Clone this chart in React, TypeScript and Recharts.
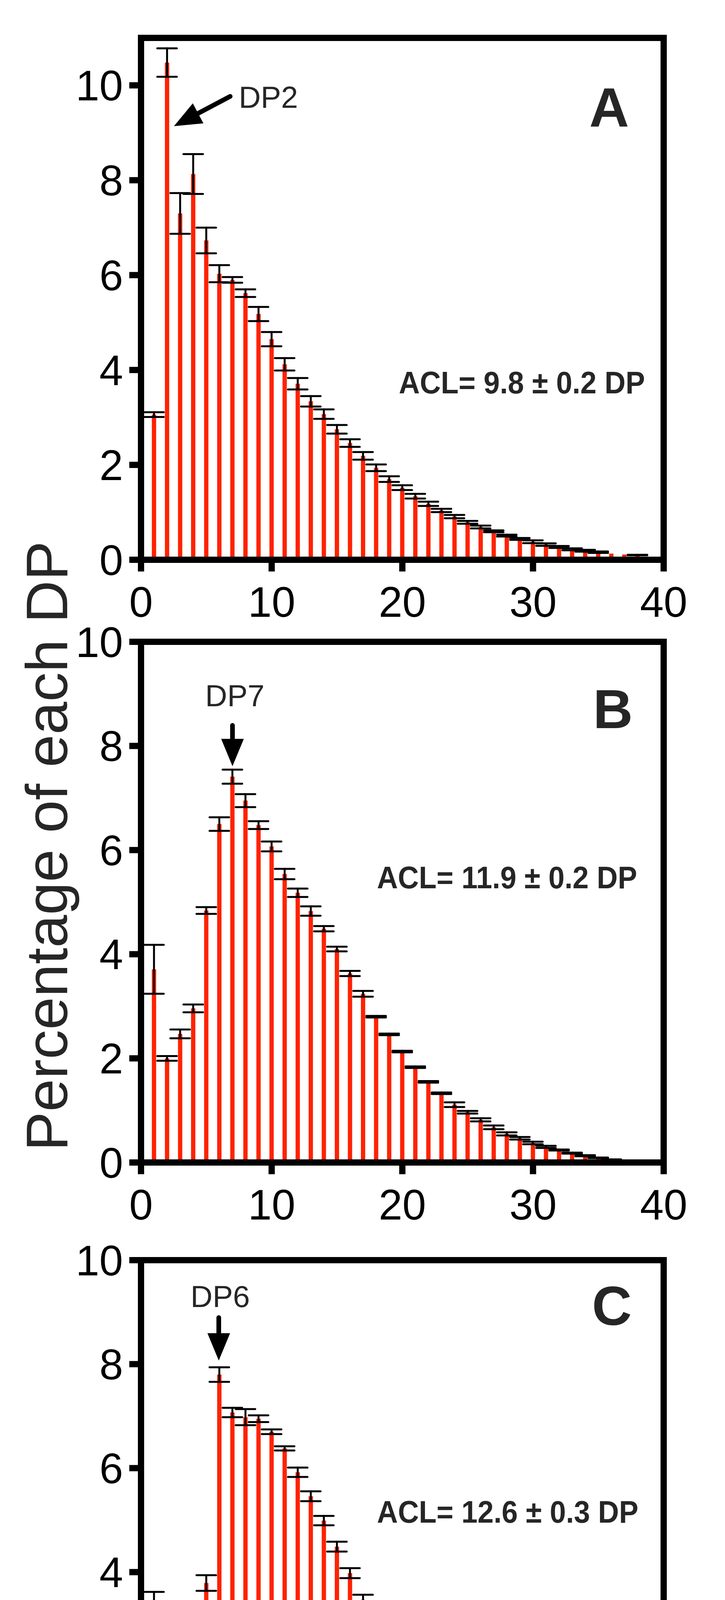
import React from 'react';
import { BarChart, Bar, XAxis, YAxis, ErrorBar, ReferenceLine, ReferenceDot } from 'recharts';

// Percentage of each DP, mean and error
const dpA = Array.from({ length: 39 }, (_, i) => i + 1);
const meanA = [3.06, 10.48, 7.3, 8.13, 6.73, 6.03, 5.9, 5.62, 5.18, 4.65, 4.12, 3.71, 3.34, 3.07, 2.75, 2.46, 2.19, 1.94, 1.7, 1.52, 1.34, 1.18, 1.04, 0.91, 0.79, 0.69, 0.6, 0.51, 0.44, 0.38, 0.32, 0.27, 0.22, 0.19, 0.16, 0.13, 0.11, 0.1, 0.06];
const semA = [0.05, 0.3, 0.43, 0.42, 0.27, 0.18, 0.06, 0.08, 0.15, 0.15, 0.13, 0.12, 0.11, 0.1, 0.09, 0.08, 0.08, 0.07, 0.06, 0.05, 0.05, 0.045, 0.035, 0.035, 0.03, 0.03, 0.02, 0.02, 0.02, 0.03, 0.025, 0.02, 0.02, 0.02, 0.015, 0, 0, 0.005, 0];

const dpB = Array.from({ length: 38 }, (_, i) => i + 1);
const meanB = [3.71, 2.0, 2.47, 2.96, 4.84, 6.5, 7.41, 6.95, 6.48, 6.07, 5.54, 5.18, 4.83, 4.49, 4.1, 3.63, 3.24, 2.8, 2.46, 2.13, 1.83, 1.55, 1.33, 1.11, 0.965, 0.82, 0.675, 0.55, 0.465, 0.375, 0.3, 0.24, 0.18, 0.13, 0.09, 0.055, 0.03, 0.01];
const semB = [0.47, 0.045, 0.085, 0.075, 0.065, 0.13, 0.135, 0.125, 0.075, 0.095, 0.1, 0.08, 0.09, 0.05, 0.045, 0.05, 0.055, 0.015, 0.015, 0.015, 0.015, 0.015, 0.015, 0.045, 0.025, 0.03, 0.035, 0.03, 0.025, 0.025, 0.02, 0.01, 0.01, 0.01, 0.005, 0.005, 0, 0];

const dpC = Array.from({ length: 40 }, (_, i) => i + 1);
const meanC = [3.04, 0.51, 0.57, 1.04, 3.79, 7.8, 7.07, 6.98, 6.95, 6.7, 6.38, 5.92, 5.46, 4.99, 4.49, 3.98, 3.47, 3.01, 2.6, 2.24, 1.89, 1.6, 1.36, 1.15, 0.95, 0.8, 0.66, 0.55, 0.45, 0.38, 0.305, 0.24, 0.18, 0.14, 0.105, 0.088, 0.057, 0.03, 0.02, 0.01];
const semC = [0.58, 0.01, 0.03, 0.045, 0.15, 0.14, 0.09, 0.155, 0.065, 0.045, 0.04, 0.09, 0.095, 0.09, 0.095, 0.095, 0.095, 0.07, 0.07, 0.07, 0.06, 0.055, 0.04, 0.04, 0.035, 0.025, 0.025, 0.03, 0.02, 0.025, 0.025, 0.02, 0.02, 0.02, 0.01, 0.01, 0, 0, 0, 0];

const xTicks = [0, 10, 20, 30, 40];
const yTicks = [0, 2, 4, 6, 8, 10];

const W = 1856;
const H = 4967;
const FONT = '"Liberation Sans", Arial, Helvetica, sans-serif';
const RED = '#ff2200';
const INK = '#262626';
const LINE = 16;

const toRows = (dp: number[], mean: number[], sem: number[]) =>
  dp.map((d, i) => ({ dp: d, mean: mean[i], sem: sem[i] }));

const textAt = (label: string, size: number, bold: boolean, anchor: string, len?: number) => (p: any) => (
  <text
    x={p.cx}
    y={p.cy}
    fill={INK}
    fontSize={size}
    fontWeight={bold ? 700 : 400}
    fontFamily={FONT}
    textAnchor={anchor}
    textLength={len}
    lengthAdjust={len ? 'spacingAndGlyphs' : undefined}
  >
    {label}
  </text>
);

// segment goes tail -> tip
const arrowShape = (p: any) => {
  const { x1, y1, x2, y2 } = p;
  const len = Math.hypot(x2 - x1, y2 - y1);
  const ux = (x2 - x1) / len;
  const uy = (y2 - y1) / len;
  const bx = x2 - ux * 70;
  const by = y2 - uy * 70;
  const nx = -uy * 29;
  const ny = ux * 29;
  return (
    <g>
      <line x1={x1 + ux * 6} y1={y1 + uy * 6} x2={bx + ux * 4} y2={by + uy * 4} stroke="#000" strokeWidth={12} strokeLinecap="round" />
      <polygon points={`${x2},${y2} ${bx + nx},${by + ny} ${bx - nx},${by - ny}`} fill="#000" />
    </g>
  );
};

interface PanelProps {
  rows: { dp: number; mean: number; sem: number }[];
  yMax: number;
  top: number;
  height: number;
  plotTop: number;
  plotBottom: number;
  letter: string;
  letterAt: [number, number];
  acl: string;
  aclAt: [number, number];
  aclLen: number;
  peak: string;
  peakAt: [number, number];
  peakAnchor: string;
  tail: [number, number];
  tip: [number, number];
  xTitle?: string;
}

function Panel(p: PanelProps) {
  const axisHeight = p.height - (p.plotBottom - p.top);
  return (
    <div style={{ position: 'absolute', left: 0, top: p.top, width: W, height: p.height }}>
      <BarChart
        width={W}
        height={p.height}
        data={p.rows}
        margin={{ top: p.plotTop - p.top, right: 157, bottom: 0, left: 61 }}
      >
        <XAxis
          dataKey="dp"
          type="number"
          domain={[0, 40]}
          ticks={xTicks}
          allowDataOverflow
          interval={0}
          height={axisHeight}
          tickSize={30}
          tickMargin={39}
          axisLine={{ stroke: '#000', strokeWidth: LINE, strokeLinecap: 'square' }}
          tickLine={{ stroke: '#000', strokeWidth: LINE }}
          tick={{ fill: '#000', fontSize: 109, fontFamily: FONT }}
          label={
            p.xTitle
              ? { value: p.xTitle, position: 'insideTop', offset: 252, fill: INK, fontSize: 138, fontFamily: FONT }
              : undefined
          }
        />
        <YAxis
          type="number"
          domain={[0, p.yMax]}
          ticks={yTicks}
          allowDataOverflow
          interval={0}
          width={300}
          tickSize={30}
          tickMargin={16}
          axisLine={{ stroke: '#000', strokeWidth: LINE, strokeLinecap: 'square' }}
          tickLine={{ stroke: '#000', strokeWidth: LINE }}
          tick={{ fill: '#000', fontSize: 109, fontFamily: FONT }}
        />
        <Bar dataKey="mean" fill={RED} barSize={11} isAnimationActive={false}>
          <ErrorBar dataKey="sem" width={25} stroke="#000" strokeWidth={5} strokeLinecap="round" isAnimationActive={false} />
        </Bar>
        <ReferenceLine y={p.yMax} stroke="#000" strokeWidth={LINE} strokeLinecap="square" />
        <ReferenceLine x={40} stroke="#000" strokeWidth={LINE} strokeLinecap="square" />
        <ReferenceLine
          segment={[{ x: p.tail[0], y: p.tail[1] }, { x: p.tip[0], y: p.tip[1] }]}
          shape={arrowShape}
          ifOverflow="visible"
        />
        <ReferenceDot x={p.peakAt[0]} y={p.peakAt[1]} ifOverflow="visible" shape={textAt(p.peak, 78, false, p.peakAnchor)} />
        <ReferenceDot x={p.letterAt[0]} y={p.letterAt[1]} ifOverflow="visible" shape={textAt(p.letter, 141, true, 'middle')} />
        <ReferenceDot x={p.aclAt[0]} y={p.aclAt[1]} ifOverflow="visible" shape={textAt(p.acl, 79, true, 'middle', p.aclLen)} />
      </BarChart>
    </div>
  );
}

export default function App() {
  return (
    <div style={{ position: 'absolute', left: 0, top: 0, width: W, height: H, background: '#fff' }}>
      <Panel
        rows={toRows(dpA, meanA, semA)}
        yMax={11}
        top={0}
        height={1660}
        plotTop={97}
        plotBottom={1433}
        letter="A"
        letterAt={[35.83, 9.13]}
        acl="ACL= 9.8 ± 0.2 DP"
        aclAt={[29.15, 3.51]}
        aclLen={630}
        peak="DP2"
        peakAt={[7.48, 9.53]}
        peakAnchor="start"
        tail={[6.98, 9.79]}
        tip={[2.52, 9.14]}
      />
      <Panel
        rows={toRows(dpB, meanB, semB)}
        yMax={10}
        top={1560}
        height={1660}
        plotTop={1643}
        plotBottom={2976}
        letter="B"
        letterAt={[36.12, 8.34]}
        acl="ACL= 11.9 ± 0.2 DP"
        aclAt={[28.01, 5.27]}
        aclLen={666}
        peak="DP7"
        peakAt={[7.18, 8.76]}
        peakAnchor="middle"
        tail={[7, 8.44]}
        tip={[7, 7.61]}
      />
      <Panel
        rows={toRows(dpC, meanC, semC)}
        yMax={10}
        top={3120}
        height={1847}
        plotTop={3226}
        plotBottom={4557}
        letter="C"
        letterAt={[36.04, 8.75]}
        acl="ACL= 12.6 ± 0.3 DP"
        aclAt={[28.06, 4.95]}
        aclLen={669}
        peak="DP6"
        peakAt={[6.06, 9.1]}
        peakAnchor="middle"
        tail={[5.95, 8.94]}
        tip={[5.95, 8.07]}
        xTitle="DP"
      />
      <svg width={W} height={H} style={{ position: 'absolute', left: 0, top: 0, pointerEvents: 'none' }}>
        <text
          transform="translate(172, 2166) rotate(-90)"
          textAnchor="middle"
          fontSize={151}
          fontFamily={FONT}
          fill={INK}
        >
          Percentage of each DP
        </text>
      </svg>
    </div>
  );
}
